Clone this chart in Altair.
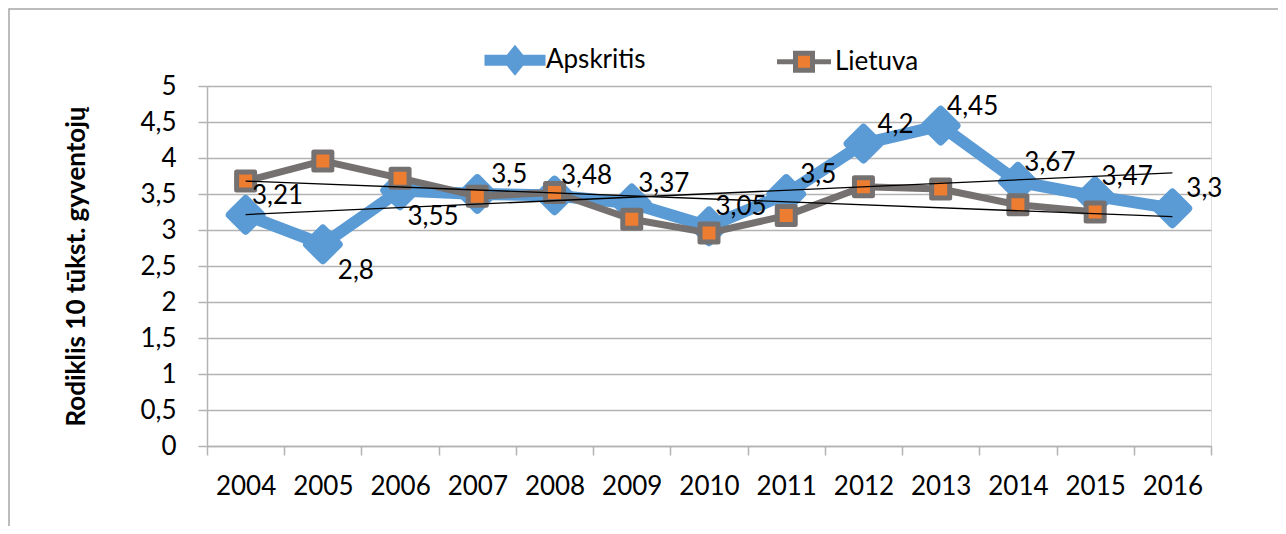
import altair as alt
import pandas as pd

# ---------------- data ----------------
years = list(range(2004, 2017))
series_names = ["Apskritis", "Lietuva"]
apskritis = [3.21, 2.8, 3.55, 3.5, 3.48, 3.37, 3.05, 3.5, 4.2, 4.45, 3.67, 3.47, 3.3]
lietuva = [3.68, 3.96, 3.72, 3.47, 3.52, 3.15, 2.96, 3.2, 3.6, 3.57, 3.35, 3.25, None]
y_ticks = [0, 0.5, 1, 1.5, 2, 2.5, 3, 3.5, 4, 4.5, 5]
y_title = "Rodiklis 10 tūkst. gyventojų"
labels_below_years = [2005, 2006]

rows = []
for name, vals in zip(series_names, [apskritis, lietuva]):
    for yr, v in zip(years, vals):
        if v is not None:
            rows.append({"year": yr, "series": name, "value": v})
df = pd.DataFrame(rows)

# ---------------- style ----------------
FONT = "Lato"
FS = 26
BLUE = "#5B9BD5"
ORANGE = "#ED7D31"
GRAY = "#767171"
GRID = "#B3B3B3"

APS_PATH = ("M-2.8,-0.3L-0.702,-0.3L0,-1.15L0.702,-0.3L2.8,-0.3L2.8,0.3"
            "L0.702,0.3L0,1.15L-0.702,0.3L-2.8,0.3Z")
LT_PATH = "M-2.7,0L-0.85,0M0.85,0L2.7,0M-0.85,-0.85L0.85,-0.85L0.85,0.85L-0.85,0.85Z"

X = alt.X(
    "year:O",
    scale=alt.Scale(domain=years, paddingInner=0, paddingOuter=0),
    axis=alt.Axis(title=None, labelAngle=0, tickBand="extent", grid=False,
                  labelFontSize=FS, labelFont=FONT, labelColor="black",
                  labelPadding=18, tickSize=9, tickColor=GRID, tickWidth=1.5,
                  domainColor=GRID, domainWidth=1.5),
)
Y = alt.Y(
    "value:Q",
    scale=alt.Scale(domain=[0, 5], nice=False, zero=True),
    axis=alt.Axis(values=y_ticks,
                  labelExpr="replace(toString(datum.value), '.', ',')",
                  title=y_title, titleFontSize=26, titleFont=FONT,
                  titleFontWeight="bold", titleColor="black", titlePadding=50,
                  labelFontSize=FS, labelFont=FONT, labelColor="black",
                  labelPadding=22, tickSize=9, tickColor=GRID, tickWidth=1.5,
                  domainColor=GRID, domainWidth=1.5,
                  grid=True, gridColor=GRID, gridWidth=1.5),
)

base = alt.Chart(df)
aps = base.transform_filter(alt.datum.series == "Apskritis")
lt = base.transform_filter(alt.datum.series == "Lietuva")

aps_line = aps.mark_line(color=BLUE, strokeWidth=12, strokeJoin="round",
                         strokeCap="round").encode(x=X, y=Y)
aps_pts = aps.mark_point(shape="diamond", filled=True, size=1000, fill=BLUE,
                         stroke=BLUE, strokeWidth=8, strokeJoin="round",
                         opacity=1).encode(x=X, y=Y)
lt_line = lt.mark_line(color=GRAY, strokeWidth=7, strokeJoin="round",
                       strokeCap="round").encode(x=X, y=Y)
lt_pts = lt.mark_point(shape="square", filled=True, size=324, fill=ORANGE,
                       stroke=GRAY, strokeWidth=5, strokeJoin="round",
                       opacity=1).encode(x=X, y=Y)

trend = base.transform_regression(
    "year", "value", groupby=["series"], extent=[years[0], years[-1]]
).mark_line(color="black", strokeWidth=1.3).encode(x=X, y=Y, detail="series:N")

lab = aps.transform_calculate(
    label="replace(toString(datum.value), '.', ',')"
)
below_expr = " || ".join(f"datum.year == {y}" for y in labels_below_years)
labels_above = lab.transform_filter(f"!({below_expr})").mark_text(
    dx=32, dy=-19, fontSize=FS, font=FONT, color="black"
).encode(x=X, y=Y, text="label:N")
labels_below = lab.transform_filter(below_expr).mark_text(
    dx=33, dy=27, fontSize=FS, font=FONT, color="black"
).encode(x=X, y=Y, text="label:N")

leg = alt.Legend(title=None, orient="none", legendX=295, legendY=-39,
                 direction="horizontal", labelFontSize=FS, labelFont=FONT,
                 labelColor="black", symbolSize=400, symbolStrokeWidth=5,
                 symbolOpacity=1, labelOffset=18, columnPadding=121, padding=0)
legend_layer = base.transform_filter("false").mark_point(
    filled=True, strokeWidth=5
).encode(
    x=X, y=Y,
    stroke=alt.Stroke("series:N", scale=alt.Scale(domain=series_names, range=[BLUE, GRAY]), legend=leg),
    fill=alt.Fill("series:N", scale=alt.Scale(domain=series_names, range=[BLUE, ORANGE]), legend=leg),
    shape=alt.Shape("series:N", scale=alt.Scale(domain=series_names, range=[APS_PATH, LT_PATH]), legend=leg),
)

frame = alt.Chart(pd.DataFrame({"f": [0]})).mark_rect(
    filled=False, stroke="#A6A6A6", strokeWidth=1.5
).encode(x=alt.value(-198), x2=alt.value(1120), y=alt.value(-77), y2=alt.value(480))

chart = alt.layer(
    frame, aps_line, aps_pts, lt_line, lt_pts, trend, labels_above, labels_below, legend_layer
).properties(
    width=1004, height=360,
    autosize=alt.AutoSizeParams(type="none"),
    padding={"left": 199, "top": 78, "right": 67, "bottom": 80},
).configure_view(stroke=None).configure(background="white")

chart.save("out.html", embed_options={"renderer": "svg", "actions": False})
